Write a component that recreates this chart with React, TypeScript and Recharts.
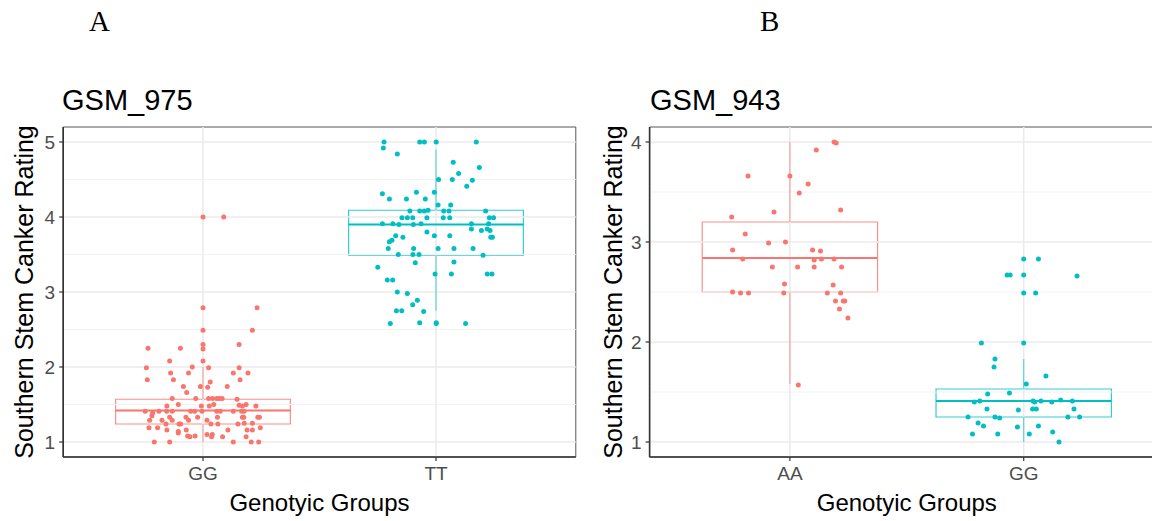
import React from 'react';
import { ScatterChart, Scatter, XAxis, YAxis, ReferenceLine, ReferenceArea } from 'recharts';

const RED = '#F8766D';
const TEAL = '#00BFC4';
const SANS = '"Liberation Sans", Arial, sans-serif';
const SERIF = '"Liberation Serif", "Times New Roman", serif';

// ---------- categories & ticks ----------
const gsm975Groups = ['GG', 'TT'];
const gsm943Groups = ['AA', 'GG'];
const groupPositions = [1, 2];
const gsm975YTicks = [1, 2, 3, 4, 5];
const gsm975YMinor = [1.5, 2.5, 3.5, 4.5];
const gsm943YTicks = [1, 2, 3, 4];
const gsm943YMinor = [1.5, 2.5, 3.5];

// ---------- box statistics: [lower whisker, Q1, median, Q3, upper whisker] ----------
const gsm975GGBox = [1.0, 1.24, 1.42, 1.57, 2.0];
const gsm975TTBox = [2.75, 3.49, 3.9, 4.09, 4.9];
const gsm943AABox = [1.58, 2.5, 2.84, 3.2, 4.0];
const gsm943GGBox = [1.0, 1.25, 1.41, 1.53, 1.83];

// ---------- jittered observations: [offset from group centre, rating] ----------
const gsm975GGPoints: [number, number][] = [
  [0, 4.0], [0.089, 4.0], [0, 2.79], [0.232, 2.79], [0, 2.49], [0.212, 2.49],
  [-0.236, 2.25], [-0.097, 2.25], [0, 2.3], [0, 2.24], [0.155, 2.3],
  [-0.143, 2.08], [0, 2.08], [-0.243, 1.99], [-0.046, 2.0], [0.024, 1.99], [0.155, 1.99],
  [-0.139, 1.92], [-0.062, 1.92], [0.13, 1.92], [0.193, 1.92],
  [-0.239, 1.83], [-0.127, 1.83], [0.159, 1.83],
  [-0.084, 1.74], [-0.011, 1.74], [0.02, 1.73], [0.104, 1.74], [0.031, 1.8], [-0.07, 1.66],
  [-0.132, 1.58], [-0.031, 1.58], [0.024, 1.58], [0.041, 1.58], [0.059, 1.58], [0.07, 1.58], [0.082, 1.58], [0.146, 1.57],
  [-0.155, 1.48], [-0.106, 1.5], [-0.007, 1.48], [0.027, 1.48], [0.046, 1.5],
  [0.155, 1.49], [0.169, 1.48], [0.185, 1.5], [0.227, 1.48],
  [-0.248, 1.41], [-0.216, 1.39], [-0.189, 1.41], [-0.156, 1.41], [-0.132, 1.41], [-0.053, 1.41],
  [-0.036, 1.41], [-0.004, 1.41], [0.059, 1.41], [0.074, 1.41], [0.13, 1.41], [0.166, 1.41], [0.176, 1.41],
  [-0.219, 1.35],
  [-0.143, 1.33], [-0.073, 1.33], [-0.023, 1.33], [0.062, 1.33], [0.169, 1.33], [0.175, 1.33], [0.235, 1.33], [0.242, 1.33],
  [-0.229, 1.29], [-0.176, 1.29], [-0.132, 1.29], [-0.062, 1.29], [0.017, 1.29],
  [-0.159, 1.24], [-0.103, 1.24], [-0.096, 1.24], [0.034, 1.24], [0.064, 1.24], [0.15, 1.24], [0.177, 1.25], [0.212, 1.25],
  [-0.232, 1.19], [-0.195, 1.19], [-0.155, 1.16], [-0.072, 1.16], [-0.106, 1.14], [-0.106, 1.12],
  [0.107, 1.16], [0.189, 1.16], [0.212, 1.16], [0.246, 1.19],
  [-0.066, 1.08], [-0.056, 1.07], [-0.034, 1.08], [0.017, 1.1], [0.04, 1.1], [0.037, 1.07], [0.084, 1.07], [0.185, 1.07],
  [-0.209, 1.0], [-0.143, 1.0], [0.13, 1.0], [0.207, 1.0], [0.239, 1.0],
];

const gsm975TTPoints: [number, number][] = [
  [-0.223, 5.0], [-0.07, 5.0], [-0.05, 5.0], [0.001, 5.0], [0.173, 5.0],
  [-0.226, 4.92], [-0.166, 4.84], [0.074, 4.73], [0.186, 4.66], [0.097, 4.58],
  [0.011, 4.5], [0.07, 4.5], [0.156, 4.49], [0.132, 4.41],
  [-0.23, 4.31], [-0.084, 4.33], [-0.007, 4.33],
  [-0.2, 4.24], [-0.127, 4.24], [-0.046, 4.24], [0.009, 4.16], [0.063, 4.16],
  [-0.112, 4.08], [-0.07, 4.08], [-0.05, 4.08], [-0.034, 4.09], [0.033, 4.08], [0.056, 4.08], [0.213, 4.08],
  [-0.146, 3.99], [-0.123, 3.99], [-0.1, 3.99], [-0.039, 3.99], [0.031, 3.99], [0.059, 3.99], [0.229, 3.99], [0.247, 3.99],
  [-0.23, 3.91], [-0.185, 3.91], [-0.159, 3.9], [-0.097, 3.9], [-0.064, 3.91], [0.152, 3.91], [0.226, 3.91],
  [0.152, 3.84], [0.195, 3.82], [0.22, 3.84], [0.232, 3.82],
  [-0.039, 3.8], [-0.173, 3.75], [-0.142, 3.73], [-0.007, 3.75], [0.059, 3.75], [0.235, 3.73], [0.242, 3.73],
  [-0.189, 3.69], [-0.2, 3.67],
  [-0.205, 3.58], [-0.096, 3.58], [0.009, 3.58], [0.077, 3.58], [0.159, 3.58],
  [-0.162, 3.5], [-0.099, 3.5], [-0.073, 3.5], [0.202, 3.49],
  [-0.089, 3.39], [0.077, 3.4], [-0.25, 3.33],
  [-0.004, 3.24], [0.066, 3.24], [0.22, 3.24], [0.24, 3.24],
  [-0.209, 3.16], [-0.186, 3.16], [-0.166, 3.0], [-0.123, 2.98],
  [-0.08, 2.89], [-0.1, 2.83], [-0.17, 2.75], [-0.147, 2.75], [-0.053, 2.74],
  [-0.196, 2.58], [-0.07, 2.59], [0.001, 2.59], [0.001, 2.58], [0.127, 2.58],
];

const gsm943AAPoints: [number, number][] = [
  [0.189, 4.0], [0.198, 3.99], [0.113, 3.92], [-0.179, 3.66], [0, 3.66],
  [0.078, 3.58], [0.04, 3.49], [-0.068, 3.3], [0.217, 3.32], [-0.249, 3.25],
  [-0.191, 3.08], [-0.091, 2.99], [-0.019, 3.0], [-0.245, 2.92], [0.097, 2.92], [0.131, 2.91],
  [-0.202, 2.83], [0.104, 2.82], [0.135, 2.83], [0.189, 2.83],
  [-0.075, 2.75], [0.033, 2.75], [0.104, 2.75], [0.221, 2.75],
  [-0.023, 2.58], [0.185, 2.57],
  [-0.245, 2.5], [-0.211, 2.49], [-0.177, 2.49], [-0.026, 2.49], [0.16, 2.49], [0.217, 2.49],
  [0.195, 2.41], [0.228, 2.41], [0.235, 2.41], [0.212, 2.33], [0.248, 2.24], [0.036, 1.57],
];

const gsm943GGPoints: [number, number][] = [
  [0, 2.83], [0.063, 2.83], [-0.071, 2.67], [-0.058, 2.67], [0, 2.67], [0.228, 2.66],
  [0, 2.49], [0.051, 2.49], [-0.181, 1.99], [0, 1.99],
  [-0.123, 1.83], [-0.127, 1.75], [0.095, 1.66], [0.011, 1.58],
  [-0.154, 1.48], [-0.061, 1.49],
  [-0.211, 1.4], [-0.188, 1.41], [0.04, 1.41], [0.047, 1.4], [0.074, 1.41], [0.12, 1.4], [0.158, 1.42], [0.208, 1.41],
  [-0.157, 1.33], [-0.023, 1.32], [0.038, 1.33], [0.054, 1.33], [0.215, 1.33],
  [-0.238, 1.25], [-0.123, 1.25], [-0.103, 1.24], [0.189, 1.25], [0.239, 1.25],
  [-0.195, 1.19], [-0.172, 1.16], [-0.027, 1.15], [0.063, 1.16],
  [-0.219, 1.08], [-0.111, 1.08], [0.024, 1.08], [0.124, 1.1], [0.151, 1.0],
];

type PanelProps = {
  width: number;
  yAxisWidth: number;
  rightMargin: number;
  groups: string[];
  yDomain: [number, number];
  yTicks: number[];
  yMinor: number[];
  boxes: number[][];
  points: [number, number][][];
  colors: string[];
};

const BOX_HALF = 0.375;

function Panel(p: PanelProps) {
  const dot = (color: string) => (props: any) => (
    <circle cx={props.cx} cy={props.cy} r={2.5} fill={color} />
  );
  return (
    <ScatterChart
      width={p.width}
      height={521}
      margin={{ top: 127, right: p.rightMargin, bottom: 0, left: 0 }}
    >
      <XAxis
        type="number"
        dataKey="x"
        domain={[0.4, 2.6]}
        ticks={groupPositions}
        interval={0}
        allowDataOverflow
        tickFormatter={(v: number) => p.groups[v - 1]}
        height={64}
        tickSize={4}
        tickMargin={6}
        axisLine={{ stroke: '#333333', strokeWidth: 1.6 }}
        tickLine={{ stroke: '#333333', strokeWidth: 1.2 }}
        tick={{ fill: '#4D4D4D', fontSize: 19, fontFamily: SANS }}
      />
      <YAxis
        type="number"
        dataKey="y"
        domain={p.yDomain}
        ticks={p.yTicks}
        interval={0}
        allowDataOverflow
        width={p.yAxisWidth}
        tickSize={4}
        tickMargin={4}
        axisLine={{ stroke: '#333333', strokeWidth: 1.6 }}
        tickLine={{ stroke: '#333333', strokeWidth: 1.2 }}
        tick={{ fill: '#4D4D4D', fontSize: 19, fontFamily: SANS }}
      />
      {p.yMinor.map((v) => (
        <ReferenceLine key={'mn' + v} y={v} stroke="#F2F2F2" strokeWidth={1} />
      ))}
      {p.yTicks.map((v) => (
        <ReferenceLine key={'mj' + v} y={v} stroke="#EBEBEB" strokeWidth={1.6} />
      ))}
      {groupPositions.map((v) => (
        <ReferenceLine key={'vx' + v} x={v} stroke="#EBEBEB" strokeWidth={1.6} />
      ))}
      <ReferenceArea
        x1={0.4}
        x2={2.6}
        y1={p.yDomain[0]}
        y2={p.yDomain[1]}
        fill="#ffffff"
        fillOpacity={0}
        stroke="#555555"
        strokeWidth={1}
      />
      {p.boxes.map((b, i) => {
        const c = groupPositions[i];
        const col = p.colors[i];
        return [
          <ReferenceLine
            key={'wl' + i}
            segment={[{ x: c, y: b[0] }, { x: c, y: b[1] }]}
            stroke={col}
            strokeOpacity={0.6}
            strokeWidth={1.2}
          />,
          <ReferenceLine
            key={'wu' + i}
            segment={[{ x: c, y: b[3] }, { x: c, y: b[4] }]}
            stroke={col}
            strokeOpacity={0.6}
            strokeWidth={1.2}
          />,
          <ReferenceArea
            key={'bx' + i}
            x1={c - BOX_HALF}
            x2={c + BOX_HALF}
            y1={b[1]}
            y2={b[3]}
            fill="#ffffff"
            fillOpacity={1}
            stroke={col}
            strokeOpacity={0.8}
            strokeWidth={1.2}
          />,
          <ReferenceLine
            key={'md' + i}
            segment={[{ x: c - BOX_HALF, y: b[2] }, { x: c + BOX_HALF, y: b[2] }]}
            stroke={col}
            strokeWidth={2}
          />,
        ];
      })}
      {p.points.map((pts, i) => (
        <Scatter
          key={'sc' + i}
          data={pts.map(([dx, y]) => ({ x: groupPositions[i] + dx, y }))}
          fill={p.colors[i]}
          shape={dot(p.colors[i])}
          isAnimationActive={false}
        />
      ))}
    </ScatterChart>
  );
}

export default function App() {
  return (
    <div
      style={{
        position: 'absolute',
        left: 0,
        top: 0,
        width: 1152,
        height: 521,
        overflow: 'hidden',
        background: '#ffffff',
      }}
    >
      <div style={{ position: 'absolute', left: 0, top: 0 }}>
        <Panel
          width={580}
          yAxisWidth={63.2}
          rightMargin={4.2}
          groups={gsm975Groups}
          yDomain={[0.8, 5.2]}
          yTicks={gsm975YTicks}
          yMinor={gsm975YMinor}
          boxes={[gsm975GGBox, gsm975TTBox]}
          points={[gsm975GGPoints, gsm975TTPoints]}
          colors={[RED, TEAL]}
        />
      </div>
      <div style={{ position: 'absolute', left: 580, top: 0 }}>
        <Panel
          width={590}
          yAxisWidth={69.6}
          rightMargin={6}
          groups={gsm943Groups}
          yDomain={[0.85, 4.15]}
          yTicks={gsm943YTicks}
          yMinor={gsm943YMinor}
          boxes={[gsm943AABox, gsm943GGBox]}
          points={[gsm943AAPoints, gsm943GGPoints]}
          colors={[RED, TEAL]}
        />
      </div>
      <svg
        width={1152}
        height={521}
        style={{ position: 'absolute', left: 0, top: 0, pointerEvents: 'none' }}
      >
        <text x={89} y={31} fontFamily={SERIF} fontSize={29} fill="#000">A</text>
        <text x={760} y={31} fontFamily={SERIF} fontSize={29} fill="#000">B</text>
        <text x={62} y={110} fontFamily={SANS} fontSize={29} fill="#000">GSM_975</text>
        <text x={650} y={110} fontFamily={SANS} fontSize={29} fill="#000">GSM_943</text>
        <text
          x={0}
          y={0}
          transform="translate(33,292) rotate(-90)"
          textAnchor="middle"
          fontFamily={SANS}
          fontSize={25}
          fill="#000"
        >
          Southern Stem Canker Rating
        </text>
        <text
          x={0}
          y={0}
          transform="translate(622,292) rotate(-90)"
          textAnchor="middle"
          fontFamily={SANS}
          fontSize={25}
          fill="#000"
        >
          Southern Stem Canker Rating
        </text>
        <text x={319.5} y={511} textAnchor="middle" fontFamily={SANS} fontSize={24} fill="#000">
          Genotyic Groups
        </text>
        <text x={906.8} y={511} textAnchor="middle" fontFamily={SANS} fontSize={24} fill="#000">
          Genotyic Groups
        </text>
      </svg>
    </div>
  );
}
